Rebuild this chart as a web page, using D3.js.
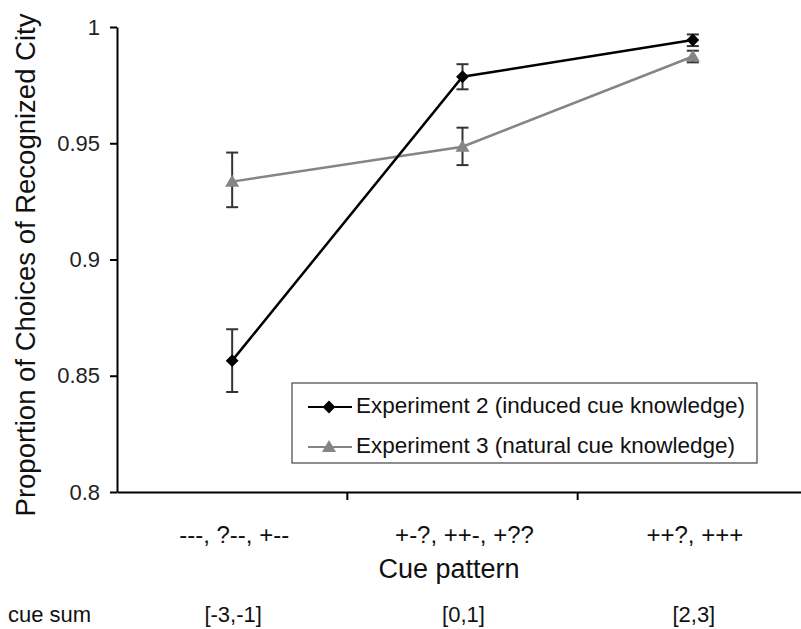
<!DOCTYPE html>
<html><head><meta charset="utf-8">
<script src="https://cdn.jsdelivr.net/npm/d3@7"></script>
<style>body{margin:0;background:#fff}svg{display:block}text{font-family:"Liberation Sans",Arial,sans-serif}</style>
</head><body><svg id="c" width="801" height="629"></svg>
<script>
const categories = ["---, ?--, +--", "+-?, ++-, +??", "++?, +++"];
const cueSums = ["[-3,-1]", "[0,1]", "[2,3]"];
const exp2 = [0.8565, 0.9786, 0.9944];
const exp2Lo = [0.843, 0.9732, 0.9918];
const exp2Hi = [0.870, 0.984, 0.9968];
const exp3 = [0.9335, 0.9485, 0.9873];
const exp3Lo = [0.9225, 0.9406, 0.9848];
const exp3Hi = [0.946, 0.9567, 0.9898];
const yTicks = [0.8, 0.85, 0.9, 0.95, 1];
const seriesNames = ["Experiment 2 (induced cue knowledge)", "Experiment 3 (natural cue knowledge)"];

const FONT = "'Liberation Sans',Arial,sans-serif";
const svg = d3.select("#c");
const x = d3.scaleBand().domain(categories).range([117, 808]);
const y = d3.scaleLinear().domain([0.8, 1]).range([492, 27]);

// y axis
const ya = svg.append("g").attr("transform","translate(117,0)")
  .call(d3.axisLeft(y).tickValues(yTicks).tickFormat(d=>String(d)).tickSize(7).tickSizeOuter(0));
ya.select(".domain").attr("stroke","#000").attr("stroke-width",2);
ya.selectAll(".tick line").attr("stroke","#000").attr("stroke-width",2);
ya.selectAll(".tick text").attr("font-size",22).attr("fill","#222").attr("x",-17)
  .attr("font-family",FONT);

// x axis
const xa = svg.append("g").attr("transform","translate(0,492)")
  .call(d3.axisBottom(x).tickSize(0).tickSizeOuter(0).tickFormat(""));
xa.select(".domain").attr("stroke","#000").attr("stroke-width",2);
svg.append("g").selectAll("line").data(categories.slice(1)).join("line")
  .attr("x1",d=>x(d)).attr("x2",d=>x(d)).attr("y1",492).attr("y2",500)
  .attr("stroke","#000").attr("stroke-width",2);
svg.append("g").selectAll("text").data(categories).join("text")
  .attr("x",d=>x(d)+x.bandwidth()/2+2).attr("y",543).attr("text-anchor","middle")
  .attr("font-size",24).attr("fill","#111").text(d=>d);

svg.append("text").attr("x",449).attr("y",578).attr("text-anchor","middle")
  .attr("font-size",27).attr("fill","#111").text("Cue pattern");
svg.append("text").attr("x",8).attr("y",622).attr("font-size",22).attr("fill","#111").text("cue sum");
svg.append("g").selectAll("text").data(cueSums).join("text")
  .attr("x",(d,i)=>x(categories[i])+x.bandwidth()/2+1).attr("y",622).attr("text-anchor","middle")
  .attr("font-size",22).attr("fill","#111").text(d=>d);

svg.append("text").attr("transform","translate(35,265) rotate(-90)").attr("text-anchor","middle")
  .attr("font-size",27.5).attr("fill","#111").text("Proportion of Choices of Recognized City");

const cx = (i)=>x(categories[i])+x.bandwidth()/2;
const series = [
  {v:exp2, lo:exp2Lo, hi:exp2Hi, color:"#000", marker:"diamond", lw:2.5},
  {v:exp3, lo:exp3Lo, hi:exp3Hi, color:"#858585", marker:"triangle", lw:2.5}
];
const line = d3.line().x((d,i)=>cx(i)).y(d=>y(d));
function marker(g, type, color, px, py){
  if(type==="diamond"){
    g.append("path").attr("d",d3.symbol(d3.symbolDiamond2,105)()).attr("transform",`translate(${px},${py})`).attr("fill",color);
  } else {
    g.append("path").attr("d",d3.symbol(d3.symbolTriangle,85)()).attr("transform",`translate(${px},${py+1})`).attr("fill",color);
  }
}
series.slice().reverse().forEach(s=>{
  const g = svg.append("g");
  g.append("path").datum(s.v).attr("d",line).attr("fill","none").attr("stroke",s.color).attr("stroke-width",s.lw);
  s.v.forEach((v,i)=>{
    const px=cx(i);
    g.append("line").attr("x1",px).attr("x2",px).attr("y1",y(s.lo[i])).attr("y2",y(s.hi[i])).attr("stroke","#333").attr("stroke-width",2);
    [s.lo[i],s.hi[i]].forEach(e=>g.append("line").attr("x1",px-6).attr("x2",px+6).attr("y1",y(e)).attr("y2",y(e)).attr("stroke","#333").attr("stroke-width",2));
    marker(g,s.marker,s.color,px,y(v));
  });
});

// legend
const lg = svg.append("g");
lg.append("rect").attr("x",292).attr("y",383).attr("width",465).attr("height",80).attr("fill","#fff").attr("stroke","#444").attr("stroke-width",1.2);
series.forEach((s,i)=>{
  const ly = 407 + i*40;
  lg.append("line").attr("x1",308).attr("x2",352).attr("y1",ly).attr("y2",ly).attr("stroke",s.color).attr("stroke-width",2);
  marker(lg,s.marker,s.color,329,ly);
  lg.append("text").attr("x",356).attr("y",ly+6).attr("font-size",22.5).attr("fill","#111").text(seriesNames[i]);
});
</script></body></html>
